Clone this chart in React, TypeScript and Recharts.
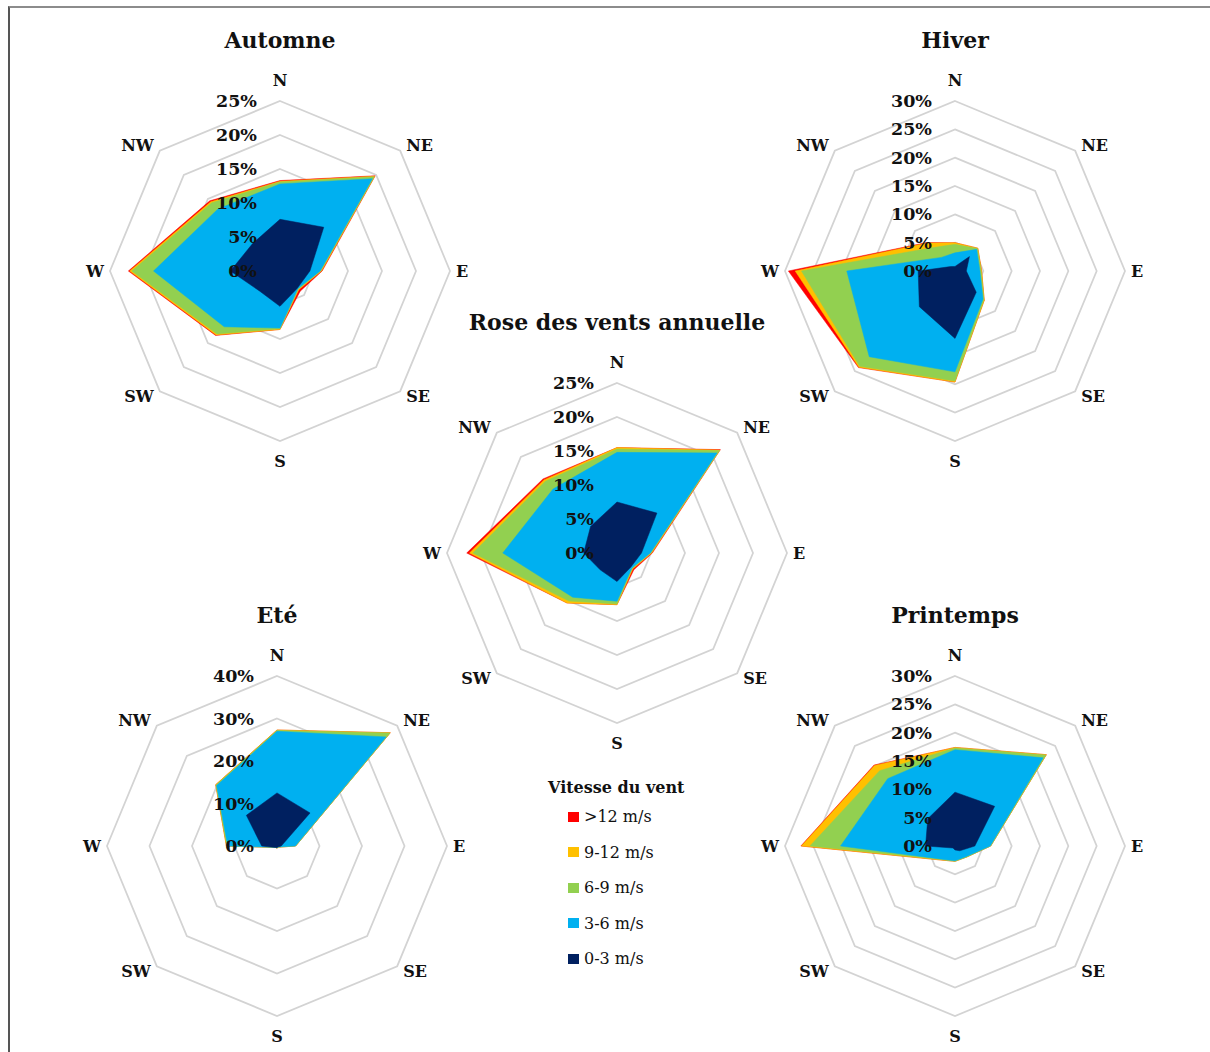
import { PolarAngleAxis, PolarGrid, PolarRadiusAxis, Radar, RadarChart } from 'recharts';

// wind directions, clockwise from north
const directions = ['N', 'NE', 'E', 'SE', 'S', 'SW', 'W', 'NW'];

// Cumulative frequencies (%) per speed class, as plotted (each class includes the slower ones)
const annuel03 = [7.5, 8.3, 3.6, 2.9, 4.2, 3.5, 4.9, 5.5];
const annuel36 = [14.8, 20.8, 4.9, 3.1, 7.1, 9.2, 16.8, 13.3];
const annuel69 = [15.3, 21.3, 5.0, 3.2, 7.5, 10.0, 21.2, 14.9];
const annuel912 = [15.5, 21.4, 5.1, 3.3, 7.6, 10.4, 21.7, 15.2];
const annuel12 = [15.5, 21.5, 5.2, 3.5, 7.6, 10.4, 22.1, 15.4];

const automne03 = [7.6, 9.1, 4.4, 3.6, 5.2, 4.2, 7.3, 5.7];
const automne36 = [12.8, 19.2, 5.9, 3.7, 8.4, 11.6, 18.6, 12.9];
const automne69 = [13.1, 19.6, 6.0, 3.8, 8.5, 13.1, 21.8, 14.2];
const automne912 = [13.2, 19.7, 6.1, 3.9, 8.6, 13.3, 22.1, 14.4];
const automne12 = [13.3, 19.8, 6.2, 4.2, 8.6, 13.4, 22.3, 14.6];

const hiver03 = [0.8, 3.6, 2.0, 5.3, 11.9, 8.9, 6.5, 1.1];
const hiver36 = [3.2, 5.4, 4.4, 7.0, 17.8, 21.4, 19.1, 3.4];
const hiver69 = [4.7, 5.6, 4.6, 7.2, 19.4, 23.8, 27.1, 5.8];
const hiver912 = [5.0, 5.7, 4.7, 7.3, 19.6, 24.0, 28.2, 7.0];
const hiver12 = [5.0, 5.7, 4.7, 7.3, 19.6, 24.1, 29.4, 7.1];

const ete03 = [12.5, 11.0, 1.0, 0.3, 0.4, 0.5, 3.6, 10.2];
const ete36 = [27.0, 36.3, 4.3, 0.3, 0.4, 0.4, 11.6, 20.1];
const ete69 = [27.2, 37.6, 4.4, 0.4, 0.5, 0.5, 11.8, 20.3];
const ete912 = [27.3, 37.7, 4.4, 0.4, 0.5, 0.5, 11.9, 20.4];
const ete12 = [27.3, 37.7, 4.4, 0.4, 0.5, 0.5, 11.9, 20.4];

const printemps03 = [9.5, 9.9, 3.5, 1.2, 0.7, 0.5, 5.2, 6.8];
const printemps36 = [17.0, 22.0, 6.2, 2.7, 2.6, 3.3, 20.2, 16.8];
const printemps69 = [17.3, 22.7, 6.3, 2.8, 2.7, 3.4, 25.6, 18.8];
const printemps912 = [17.4, 22.8, 6.3, 2.8, 2.7, 3.5, 27.1, 20.1];
const printemps12 = [17.4, 22.8, 6.3, 2.8, 2.7, 3.5, 27.2, 20.2];

// drawn back to front: fastest class first, calm on top
const speedClasses = [
  { key: 's12', label: '>12 m/s', color: '#FF0000' },
  { key: 's912', label: '9-12 m/s', color: '#FFC000' },
  { key: 's69', label: '6-9 m/s', color: '#92D050' },
  { key: 's36', label: '3-6 m/s', color: '#00B0F0' },
  { key: 's03', label: '0-3 m/s', color: '#002060' },
];

const FONT = '"DejaVu Serif", serif';
const INK = '#111';
const SIZE = 440;
const C = SIZE / 2;
const R = 170;

const buildRows = (s03: number[], s36: number[], s69: number[], s912: number[], s12: number[]) =>
  directions.map((dir, i) => ({
    dir,
    s03: s03[i],
    s36: s36[i],
    s69: s69[i],
    s912: s912[i],
    s12: s12[i],
  }));

// Excel-like placement: labels sit beside the outer vertex, anchored away from the centre
const AngleTick = (props: any) => {
  const { x, y, payload } = props;
  const dx = x - C;
  const dy = y - C;
  const len = Math.hypot(dx, dy) || 1;
  const ux = dx / len;
  const uy = dy / len;
  const vx = C + ux * R;
  const vy = C + uy * R;
  const sx = Math.abs(ux) < 0.1 ? 0 : Math.sign(ux);
  const sy = Math.abs(uy) < 0.1 ? 0 : Math.sign(uy);
  let tx = vx + sx * 6;
  let ty = vy;
  if (sx === 0) ty = vy + sy * 20.5;
  else if (sy !== 0) ty = vy + sy * 5.5;
  const anchor = sx === 0 ? 'middle' : sx > 0 ? 'start' : 'end';
  return (
    <text
      x={tx}
      y={ty}
      textAnchor={anchor}
      dominantBaseline="central"
      fontFamily={FONT}
      fontWeight="bold"
      fontSize={16}
      fill={INK}
    >
      {payload.value}
    </text>
  );
};

const RadiusTick = (props: any) => {
  const { x, y, payload } = props;
  return (
    <text
      x={x - 23}
      y={y}
      textAnchor="end"
      dominantBaseline="central"
      fontFamily={FONT}
      fontWeight="bold"
      fontSize={17.5}
      fill={INK}
    >
      {`${payload.value}%`}
    </text>
  );
};

interface RoseProps {
  title: string;
  cx: number;
  cy: number;
  max: number;
  tickCount: number;
  rows: ReturnType<typeof buildRows>;
}

const Rose = ({ title, cx, cy, max, tickCount, rows }: RoseProps) => (
  <>
    <div
      style={{
        position: 'absolute',
        left: cx - 200,
        top: cy - 244,
        width: 400,
        textAlign: 'center',
        fontFamily: FONT,
        fontWeight: 'bold',
        fontSize: 22,
        color: INK,
      }}
    >
      {title}
    </div>
    <div style={{ position: 'absolute', left: cx - C, top: cy - C }}>
      <RadarChart
        width={SIZE}
        height={SIZE}
        data={rows}
        cx={C}
        cy={C}
        outerRadius={R}
        margin={{ top: 0, right: 0, bottom: 0, left: 0 }}
      >
        <PolarGrid gridType="polygon" radialLines={false} stroke="#d3d3d3" strokeWidth={1.75} />
        <PolarAngleAxis dataKey="dir" axisLine={false} tickLine={false} tick={AngleTick} />
        <PolarRadiusAxis
          angle={90}
          domain={[0, max]}
          tickCount={tickCount}
          axisLine={false}
          tickLine={false}
          tick={RadiusTick}
        />
        {speedClasses.map((s) => (
          <Radar
            key={s.key}
            dataKey={s.key}
            name={s.label}
            fill={s.color}
            fillOpacity={1}
            stroke={s.color}
            strokeWidth={0.5}
            isAnimationActive={false}
          />
        ))}
      </RadarChart>
    </div>
  </>
);

const Legend = () => (
  <div style={{ position: 'absolute', left: 548, top: 778, fontFamily: FONT, color: INK }}>
    <div style={{ fontWeight: 'bold', fontSize: 16, height: 21 }}>Vitesse du vent</div>
    {speedClasses.map((s) => (
      <div
        key={s.key}
        style={{ display: 'flex', alignItems: 'center', height: 35.5, marginLeft: 20, fontSize: 16 }}
      >
        <span style={{ width: 11, height: 10, background: s.color, marginRight: 5 }} />
        {s.label}
      </div>
    ))}
  </div>
);

export default function App() {
  return (
    <div
      style={{
        position: 'absolute',
        left: 0,
        top: 0,
        width: 1210,
        height: 1052,
        overflow: 'hidden',
        background: '#fff',
      }}
    >
      <div
        style={{
          position: 'absolute',
          left: 8,
          top: 6,
          width: 1400,
          height: 1200,
          borderTop: '2px solid #8c8c8c',
          borderLeft: '2px solid #555',
        }}
      />
      <Rose title="Automne" cx={280} cy={271} max={25} tickCount={6} rows={buildRows(automne03, automne36, automne69, automne912, automne12)} />
      <Rose title="Hiver" cx={955} cy={271} max={30} tickCount={7} rows={buildRows(hiver03, hiver36, hiver69, hiver912, hiver12)} />
      <Rose title="Eté" cx={277} cy={846} max={40} tickCount={5} rows={buildRows(ete03, ete36, ete69, ete912, ete12)} />
      <Rose title="Printemps" cx={955} cy={846} max={30} tickCount={7} rows={buildRows(printemps03, printemps36, printemps69, printemps912, printemps12)} />
      <Rose title="Rose des vents annuelle" cx={617} cy={553} max={25} tickCount={6} rows={buildRows(annuel03, annuel36, annuel69, annuel912, annuel12)} />
      <Legend />
    </div>
  );
}
